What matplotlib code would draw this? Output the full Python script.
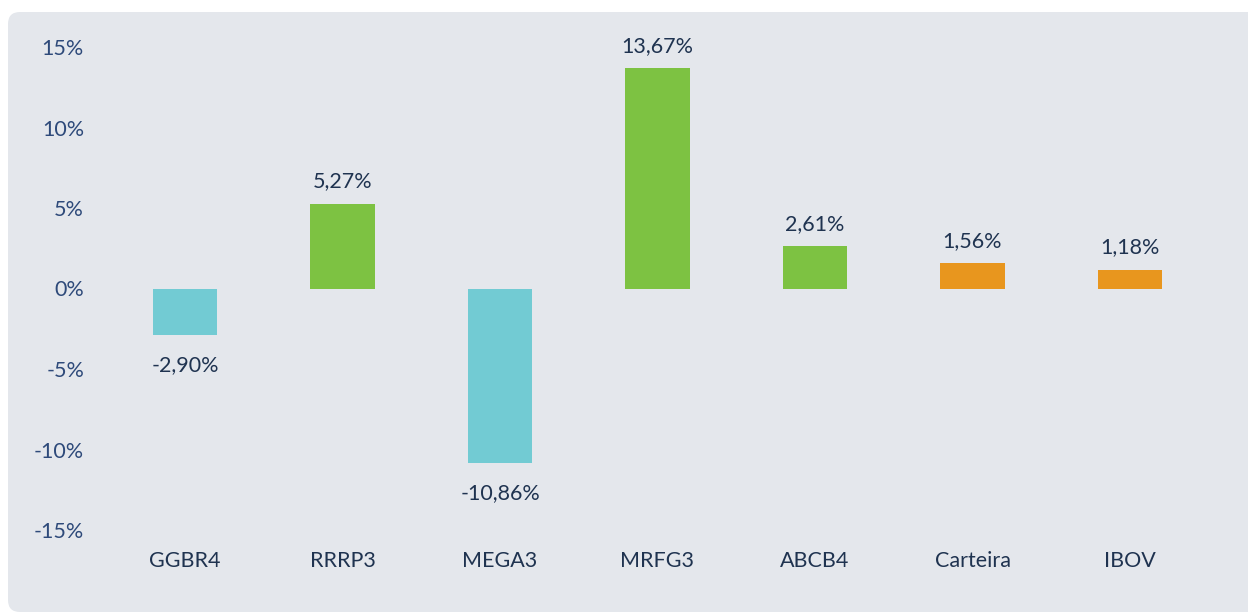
import matplotlib.pyplot as plt
from matplotlib.patches import FancyBboxPatch

# dados
ativos = ["GGBR4", "RRRP3", "MEGA3", "MRFG3", "ABCB4", "Carteira", "IBOV"]
retornos = [-2.90, 5.27, -10.86, 13.67, 2.61, 1.56, 1.18]
cores = ["#72CBD3", "#7DC242", "#72CBD3", "#7DC242", "#7DC242", "#E8961E", "#E8961E"]
yticks = [-15, -10, -5, 0, 5, 10, 15]

plt.rcParams["font.family"] = ["Lato", "DejaVu Sans"]

W, H = 1248, 613
fig = plt.figure(figsize=(12.48, 6.13), dpi=100)
fig.patch.set_facecolor("white")

# fundo cinza arredondado (em pixels)
bg_ax = fig.add_axes([0, 0, 1, 1], zorder=0)
bg_ax.set_xlim(0, W)
bg_ax.set_ylim(H, 0)
bg_ax.axis("off")
bg_ax.add_patch(FancyBboxPatch((8, 12), 1300, 600,
                               boxstyle="round,pad=0,rounding_size=12",
                               facecolor="#E4E7EC", edgecolor="none"))

ax = fig.add_axes([106.25 / W, 83 / H, 1102.5 / W, 483 / H], zorder=1)
ax.set_facecolor("none")

fs = 15.5
x = range(len(ativos))
ax.bar(x, retornos, width=0.41, color=cores, zorder=2)

for xi, v in zip(x, retornos):
    txt = f"{v:.2f}%".replace(".", ",")
    if v >= 0:
        ax.annotate(txt, (xi, v), xytext=(0, 9), textcoords="offset points",
                    ha="center", va="bottom", fontsize=fs, color="#1F3350")
    else:
        ax.annotate(txt, (xi, v), xytext=(0, -14), textcoords="offset points",
                    ha="center", va="top", fontsize=fs, color="#1F3350")

ax.set_xlim(-0.5, len(ativos) - 0.5)
ax.set_ylim(-15, 15)
ax.set_yticks(yticks)
ax.set_yticklabels([f"{t}%" for t in yticks], color="#2E4A7A", fontsize=fs)
ax.set_xticks(list(x))
ax.set_xticklabels(ativos, color="#1F3350", fontsize=fs)
ax.tick_params(axis="both", length=0)
ax.tick_params(axis="y", pad=16)
ax.tick_params(axis="x", pad=15)
for s in ax.spines.values():
    s.set_visible(False)

fig.savefig("out.png", dpi=100)
